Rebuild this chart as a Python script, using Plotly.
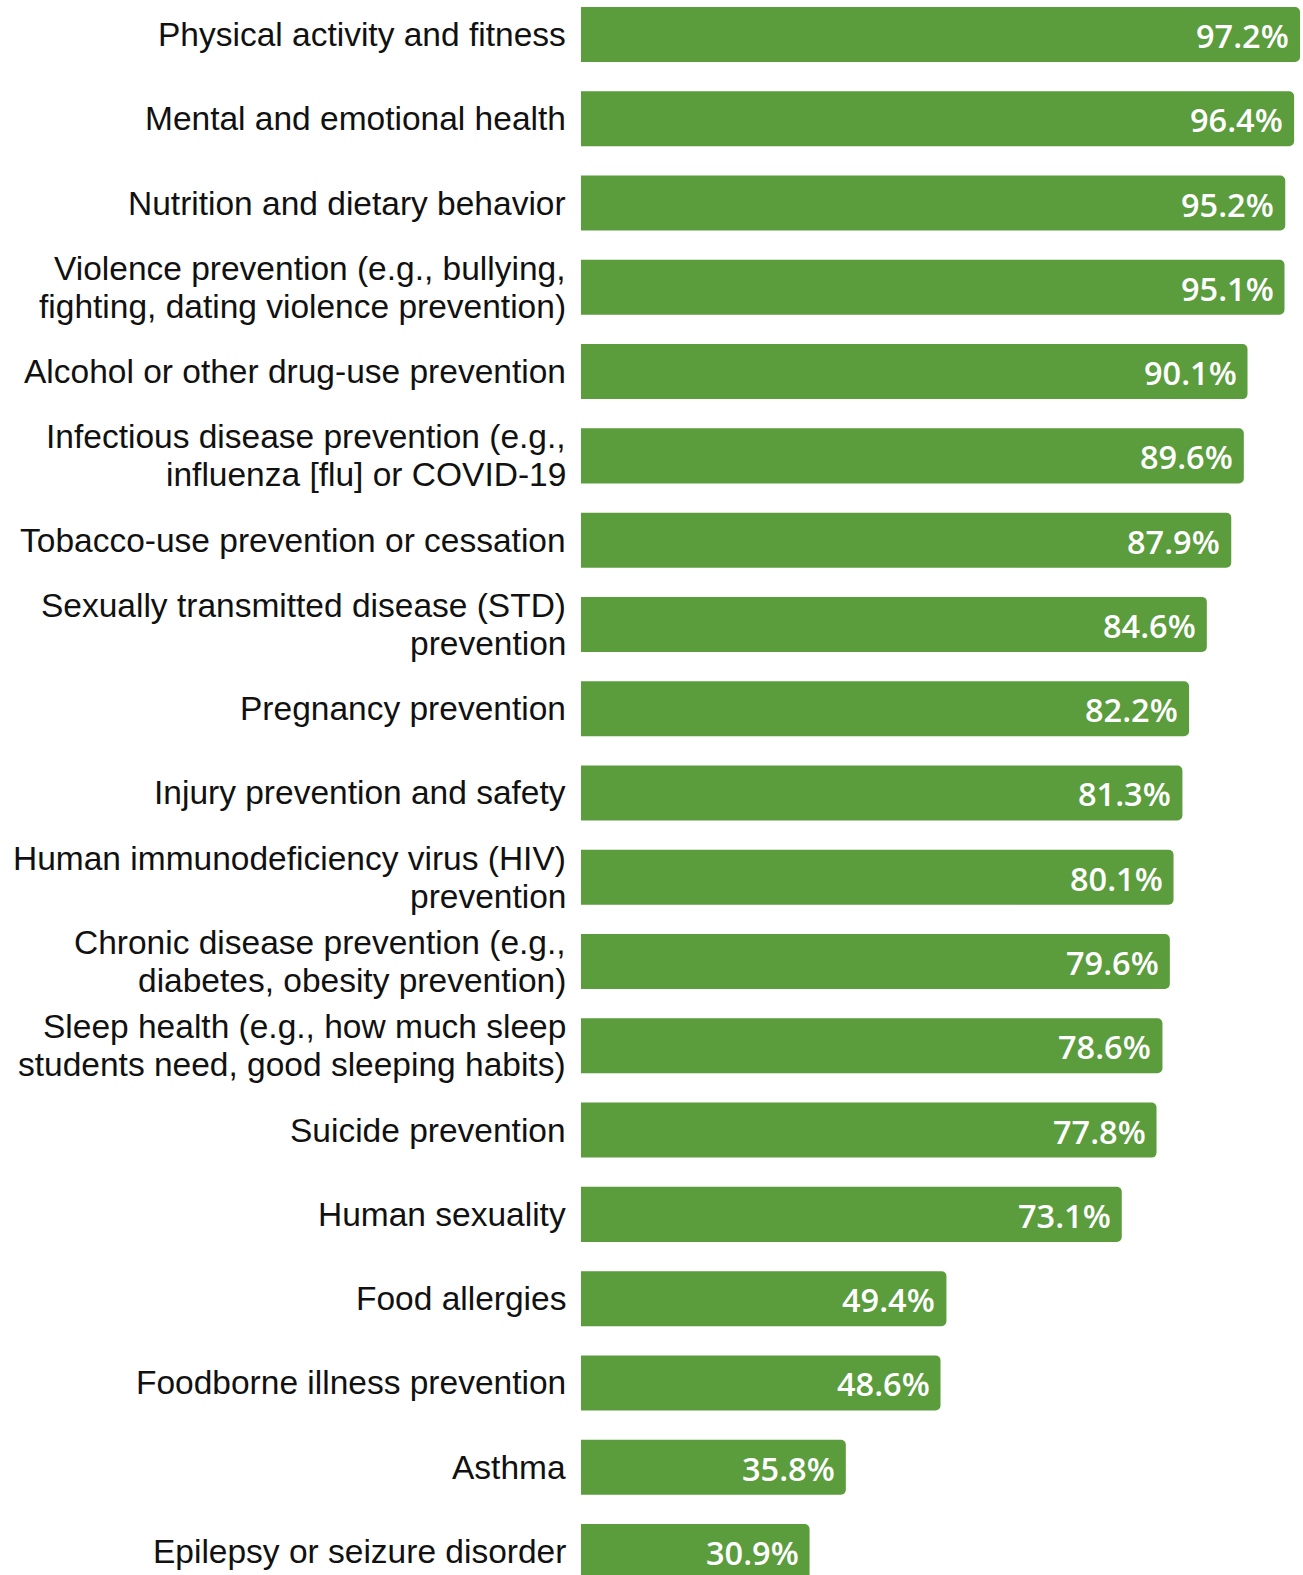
import plotly.graph_objects as go

categories = [
    "Physical activity and fitness",
    "Mental and emotional health",
    "Nutrition and dietary behavior",
    "Violence prevention (e.g., bullying,<br>fighting, dating violence prevention)",
    "Alcohol or other drug-use prevention",
    "Infectious disease prevention (e.g.,<br>influenza [flu] or COVID-19",
    "Tobacco-use prevention or cessation",
    "Sexually transmitted disease (STD)<br>prevention",
    "Pregnancy prevention",
    "Injury prevention and safety",
    "Human immunodeficiency virus (HIV)<br>prevention",
    "Chronic disease prevention (e.g.,<br>diabetes, obesity prevention)",
    "Sleep health (e.g., how much sleep<br>students need, good sleeping habits)",
    "Suicide prevention",
    "Human sexuality",
    "Food allergies",
    "Foodborne illness prevention",
    "Asthma",
    "Epilepsy or seizure disorder",
]
values = [97.2, 96.4, 95.2, 95.1, 90.1, 89.6, 87.9, 84.6, 82.2, 81.3,
          80.1, 79.6, 78.6, 77.8, 73.1, 49.4, 48.6, 35.8, 30.9]
value_labels = [f"{v:.1f}%" for v in values]

BAR_COLOR = "#5b9c3d"
LINE_GAP = 38  # px between lines of a wrapped category label

fig = go.Figure()
fig.add_trace(go.Bar(
    x=values,
    y=categories,
    orientation="h",
    marker=dict(color=BAR_COLOR, line=dict(width=0)),
    width=0.653,
    hoverinfo="skip",
))

# value labels inside bar ends
for cat, v, lab in zip(categories, values, value_labels):
    fig.add_annotation(
        x=v, y=cat, xref="x", yref="y",
        text=lab, showarrow=False,
        xanchor="right", yanchor="middle", xshift=-9, yshift=-1,
        font=dict(family="Open Sans", size=32.5, color="white", weight=600),
    )

# category labels (each line placed separately for tighter line spacing)
for cat in categories:
    lines = cat.split("<br>")
    n = len(lines)
    for i, line in enumerate(lines):
        off = ((n - 1) / 2 - i) * LINE_GAP
        fig.add_annotation(
            x=0, y=cat, xref="paper", yref="y",
            text=line, showarrow=False,
            xanchor="right", yanchor="middle", xshift=-13, yshift=off,
            font=dict(family="Liberation Sans", size=33.5, color="#111111"),
        )

fig.update_layout(
    width=1303, height=1575,
    margin=dict(l=581, r=0, t=0, b=0, pad=0, autoexpand=False),
    paper_bgcolor="white", plot_bgcolor="white",
    showlegend=False,
    barcornerradius=5,
    hovermode=False,
    xaxis=dict(range=[0, 97.6], visible=False, fixedrange=True, automargin=False),
    yaxis=dict(
        type="category",
        categoryorder="array", categoryarray=categories,
        range=[18.279, -0.409],
        showgrid=False, zeroline=False, showline=False,
        showticklabels=False, ticks="", automargin=False, fixedrange=True,
    ),
)

fig.write_html(
    "out.html",
    config={"displayModeBar": False, "staticPlot": True},
    post_script="document.body.style.margin='0';document.body.style.overflow='hidden';",
)
